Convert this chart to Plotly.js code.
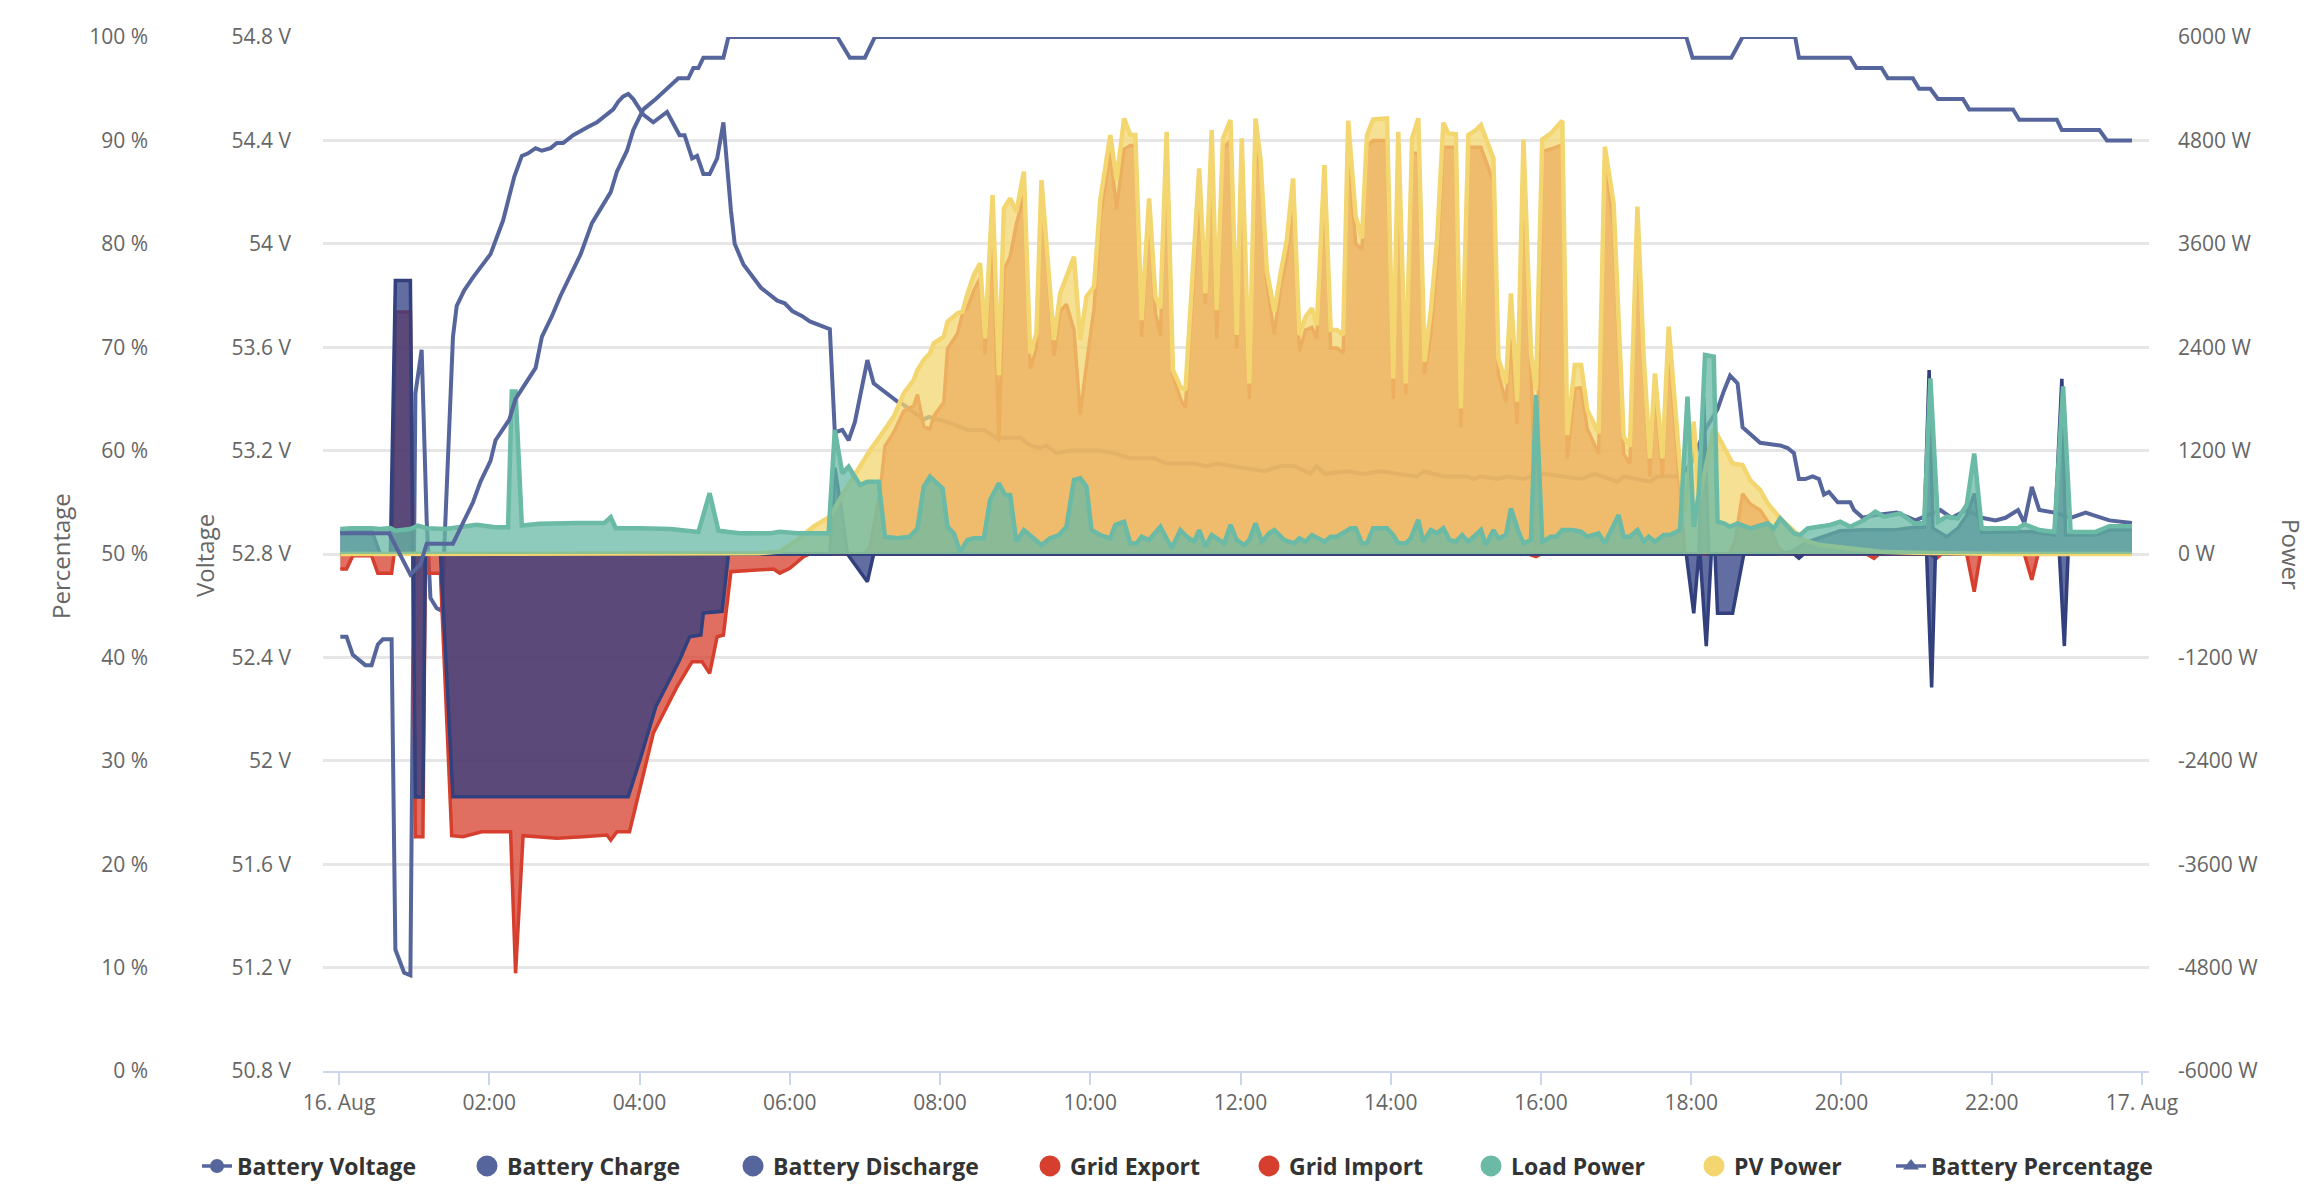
<!DOCTYPE html>
<html>
<head>
<meta charset="utf-8">
<script src="https://cdn.plot.ly/plotly-3.0.1.min.js"></script>
<style>
  html, body { margin: 0; padding: 0; background: #ffffff; }
  #grafica { width: 2312px; height: 1202px; }
</style>
</head>
<body>
<div id="grafica"></div>
<script>
// Inverter day log: 16 Aug, times in minutes after midnight

// Battery voltage (V)
let voltMin = [1, 6, 11, 21, 26, 31, 35, 42, 45, 52, 57, 61, 66, 70, 73, 78, 82, 84, 91, 94, 100, 107, 121, 131, 140, 146, 151, 157, 162, 169, 174, 179, 187, 198, 206, 219, 223, 227, 231, 235, 243, 251, 262, 272, 276, 282, 286, 291, 296, 302, 307, 313, 316, 323, 337, 350, 356, 362, 370, 376, 392, 396, 402, 407, 412, 422, 427, 446, 450, 467, 471, 486, 502, 515, 525, 544, 552, 560, 565, 573, 584, 608, 619, 632, 651, 661, 683, 693, 701, 739, 752, 763, 776, 781, 787, 805, 818, 832, 861, 866, 882, 901, 906, 912, 926, 933, 946, 952, 962, 992, 1003, 1021, 1026, 1047, 1053, 1071, 1080, 1091, 1101, 1106, 1111, 1117, 1121, 1135, 1151, 1157, 1162, 1166, 1171, 1177, 1182, 1186, 1190, 1197, 1207, 1210, 1217, 1226, 1244, 1259, 1279, 1288, 1300, 1312, 1323, 1331, 1341, 1346, 1352, 1358, 1370, 1383, 1395, 1401, 1414, 1432];
let voltV = [52.48, 52.48, 52.41, 52.37, 52.37, 52.45, 52.47, 52.47, 51.27, 51.18, 51.17, 53.42, 53.59, 52.93, 52.63, 52.59, 52.58, 52.81, 53.64, 53.76, 53.82, 53.87, 53.96, 54.09, 54.26, 54.34, 54.35, 54.37, 54.36, 54.37, 54.39, 54.39, 54.42, 54.45, 54.47, 54.52, 54.55, 54.57, 54.58, 54.56, 54.50, 54.47, 54.51, 54.42, 54.42, 54.33, 54.34, 54.27, 54.27, 54.33, 54.47, 54.13, 54.00, 53.92, 53.83, 53.78, 53.77, 53.74, 53.72, 53.70, 53.67, 53.27, 53.28, 53.24, 53.31, 53.55, 53.46, 53.39, 53.38, 53.32, 53.33, 53.31, 53.28, 53.28, 53.25, 53.25, 53.22, 53.21, 53.22, 53.19, 53.20, 53.20, 53.19, 53.17, 53.17, 53.15, 53.15, 53.14, 53.15, 53.12, 53.14, 53.14, 53.11, 53.14, 53.11, 53.12, 53.11, 53.12, 53.10, 53.12, 53.10, 53.10, 53.09, 53.10, 53.09, 53.10, 53.09, 53.10, 53.11, 53.09, 53.11, 53.08, 53.10, 53.08, 53.10, 53.10, 53.15, 53.28, 53.36, 53.43, 53.49, 53.46, 53.29, 53.23, 53.22, 53.21, 53.19, 53.09, 53.09, 53.10, 53.09, 53.03, 53.04, 53.00, 53.00, 52.97, 52.94, 52.95, 52.96, 52.93, 52.97, 52.94, 52.97, 52.94, 52.93, 52.94, 52.97, 52.92, 53.06, 52.97, 52.96, 52.94, 52.96, 52.95, 52.93, 52.92];

// Battery state of charge (%)
let socMin = [1, 40, 57, 65, 70, 91, 99, 107, 113, 121, 125, 136, 141, 157, 162, 170, 177, 185, 193, 202, 217, 222, 230, 235, 243, 253, 262, 271, 279, 283, 287, 291, 307, 311, 398, 408, 420, 428, 1076, 1081, 1112, 1121, 1163, 1166, 1207, 1212, 1232, 1237, 1257, 1262, 1271, 1277, 1297, 1302, 1337, 1342, 1372, 1376, 1406, 1412, 1432];
let socPct = [52, 52, 48, 49, 51, 51, 53, 55, 57, 59, 61, 63, 65, 68, 71, 73, 75, 77, 79, 82, 85, 87, 89, 91, 93, 94, 95, 96, 96, 97, 97, 98, 98, 100, 100, 98, 98, 100, 100, 98, 98, 100, 100, 98, 98, 97, 97, 96, 96, 95, 95, 94, 94, 93, 93, 92, 92, 91, 91, 90, 90];

// Battery charge (W, drawn below zero)
let chargeMin = [1, 59, 61, 67, 69, 81, 91, 231, 242, 253, 272, 280, 289, 291, 306, 311, 406, 413, 422, 427, 1076, 1082, 1086, 1087, 1092, 1096, 1099, 1101, 1113, 1122, 1162, 1166, 1170, 1268, 1272, 1275, 1374, 1378, 1381, 1432];
let chargeW = [0, 0, -2820, -2820, 0, 0, -2816, -2816, -2313, -1772, -1230, -960, -940, -685, -665, 0, 0, -147, -321, 0, 0, -688, 0, 0, -1068, 0, 0, -688, -688, 0, 0, -50, 0, 0, -1549, 0, 0, -1068, 0, 0];

// Battery discharge (W)
let dischargeMin = [1, 26, 33, 41, 45, 57, 59, 392, 396, 402, 406, 1086, 1090, 1094, 1149, 1160, 1173, 1185, 1199, 1218, 1242, 1258, 1266, 1270, 1273, 1284, 1293, 1300, 1306, 1312, 1341, 1352, 1370, 1376, 1379, 1403, 1414, 1432];
let dischargeW = [260, 278, 0, 0, 3174, 3174, 0, 0, 1000, 450, 0, 0, 1806, 0, 0, 30, 140, 200, 270, 280, 280, 310, 310, 2135, 300, 200, 300, 450, 700, 250, 250, 260, 220, 2032, 220, 220, 280, 280];

// Grid export (W)
let exportMin = [1, 42, 45, 57, 59, 420, 424, 432, 436, 443, 451, 459, 462, 467, 472, 475, 483, 486, 494, 498, 502, 507, 512, 516, 522, 527, 531, 536, 541, 547, 552, 557, 561, 571, 576, 581, 587, 592, 597, 603, 608, 616, 621, 627, 632, 636, 641, 647, 652, 656, 661, 666, 672, 676, 687, 692, 697, 701, 706, 712, 717, 721, 727, 732, 736, 741, 747, 752, 757, 762, 767, 772, 777, 781, 787, 792, 797, 802, 806, 812, 817, 821, 826, 837, 842, 846, 852, 857, 862, 867, 872, 877, 882, 886, 892, 896, 902, 908, 912, 922, 926, 932, 936, 941, 946, 952, 956, 961, 968, 977, 981, 987, 992, 997, 1006, 1011, 1018, 1026, 1031, 1037, 1042, 1047, 1051, 1057, 1062, 1071, 1075, 1110, 1115, 1121, 1127, 1135, 1141, 1149, 1155, 1432];
let exportW = [0, 0, 2808, 2808, 0, 0, 80, 700, 1250, 1410, 1660, 1720, 1850, 1480, 1450, 1600, 1760, 2380, 2560, 2790, 2860, 3060, 3200, 2320, 3750, 1300, 3300, 3450, 3830, 4160, 2150, 2380, 4240, 2300, 2820, 2900, 2600, 1620, 2200, 2850, 3900, 4680, 4000, 4700, 4740, 4740, 2520, 3960, 2800, 2530, 4800, 2080, 1800, 1700, 4200, 2900, 4700, 2500, 4700, 4800, 2380, 4700, 1800, 4700, 4430, 3150, 2550, 3100, 3450, 4150, 2350, 2600, 2630, 2500, 4370, 2390, 2390, 2330, 4750, 3600, 3530, 4740, 4800, 4800, 1800, 4780, 1850, 4650, 4650, 2090, 2550, 3400, 4720, 4720, 4720, 1470, 4720, 4720, 4720, 4320, 2090, 1760, 2490, 1510, 4690, 2170, 60, 4670, 4700, 4750, 1100, 1920, 1930, 1450, 1160, 4650, 3800, 1160, 1050, 3750, 2150, 900, 1950, 890, 2420, 750, 0, 0, 150, 700, 580, 510, 380, 85, 0, 0];

// Grid import (W, drawn below zero)
let importMin = [1, 6, 11, 26, 31, 42, 44, 59, 61, 67, 69, 70, 81, 90, 99, 114, 137, 141, 147, 174, 195, 214, 217, 222, 232, 251, 270, 282, 290, 296, 302, 307, 313, 326, 347, 352, 360, 371, 376, 950, 956, 960, 1220, 1226, 1230, 1270, 1276, 1280, 1300, 1306, 1311, 1346, 1352, 1357, 1432];
let importW = [-175, -175, -20, -20, -224, -224, 0, 0, -3281, -3281, 0, -224, -224, -3269, -3281, -3223, -3223, -4866, -3269, -3300, -3281, -3261, -3319, -3223, -3223, -2081, -1540, -1250, -1250, -1385, -960, -940, -205, -193, -174, -222, -166, -31, 0, 0, -30, 0, 0, -50, 0, 0, -50, 0, 0, -437, 0, 0, -299, 0, 0];

// Load power (W)
let loadMin = [1, 10, 26, 33, 41, 45, 57, 63, 70, 85, 100, 110, 125, 135, 138, 141, 146, 160, 190, 212, 217, 221, 240, 265, 287, 296, 303, 320, 345, 352, 366, 379, 391, 396, 402, 407, 416, 422, 431, 436, 446, 456, 462, 467, 472, 482, 486, 491, 496, 502, 507, 515, 520, 527, 532, 536, 541, 547, 555, 561, 568, 575, 581, 587, 592, 597, 601, 608, 616, 620, 627, 632, 637, 641, 647, 656, 665, 672, 677, 683, 687, 692, 697, 707, 712, 717, 723, 727, 732, 737, 743, 747, 755, 763, 767, 772, 777, 787, 792, 797, 808, 812, 817, 821, 826, 837, 842, 846, 852, 856, 862, 866, 872, 877, 882, 887, 892, 897, 902, 912, 916, 922, 926, 932, 936, 942, 946, 952, 956, 961, 968, 972, 977, 985, 992, 997, 1006, 1011, 1022, 1026, 1031, 1037, 1042, 1046, 1051, 1058, 1063, 1071, 1077, 1082, 1086, 1091, 1098, 1101, 1106, 1111, 1117, 1127, 1141, 1146, 1151, 1162, 1167, 1173, 1191, 1199, 1207, 1218, 1227, 1234, 1247, 1258, 1266, 1271, 1277, 1284, 1293, 1300, 1306, 1312, 1341, 1346, 1358, 1370, 1377, 1383, 1403, 1414, 1432];
let loadW = [290, 300, 300, 290, 300, 270, 290, 330, 300, 290, 320, 340, 310, 310, 1886, 1886, 330, 350, 360, 360, 427, 300, 300, 290, 255, 705, 270, 240, 240, 259, 240, 240, 240, 1439, 936, 1013, 801, 839, 839, 201, 182, 201, 298, 781, 897, 762, 317, 240, 27, 162, 182, 182, 627, 820, 685, 685, 143, 278, 182, 104, 182, 220, 317, 859, 878, 781, 278, 220, 182, 337, 375, 124, 124, 201, 162, 317, 66, 278, 201, 143, 278, 85, 220, 124, 337, 162, 104, 162, 356, 143, 240, 278, 162, 124, 182, 143, 220, 143, 201, 201, 298, 298, 124, 124, 298, 298, 220, 124, 124, 182, 395, 143, 278, 240, 298, 162, 143, 220, 143, 278, 104, 278, 182, 220, 530, 259, 124, 162, 1845, 143, 201, 201, 278, 278, 259, 201, 240, 124, 453, 201, 201, 278, 143, 201, 143, 220, 220, 278, 1826, 317, 700, 2309, 2290, 375, 356, 317, 356, 298, 356, 298, 414, 240, 220, 298, 337, 375, 317, 395, 491, 433, 472, 356, 356, 2038, 375, 433, 414, 569, 1166, 300, 300, 345, 278, 256, 1944, 256, 256, 322, 322];

// PV power (W)
let pvMin = [1, 320, 335, 352, 366, 379, 392, 406, 419, 424, 432, 436, 443, 451, 459, 462, 467, 472, 475, 483, 486, 494, 498, 502, 507, 512, 516, 522, 527, 531, 536, 541, 547, 552, 557, 561, 571, 576, 581, 587, 592, 597, 603, 608, 616, 621, 627, 632, 636, 641, 647, 652, 656, 661, 666, 672, 676, 687, 692, 697, 701, 706, 712, 717, 721, 727, 732, 736, 741, 747, 752, 757, 762, 767, 772, 777, 781, 787, 792, 797, 802, 806, 812, 817, 821, 826, 837, 842, 846, 852, 857, 862, 867, 872, 877, 882, 886, 892, 896, 902, 908, 912, 922, 926, 932, 936, 941, 946, 952, 956, 961, 968, 977, 981, 987, 992, 997, 1006, 1011, 1018, 1026, 1031, 1037, 1042, 1047, 1051, 1057, 1062, 1071, 1075, 1082, 1086, 1098, 1103, 1113, 1121, 1127, 1135, 1141, 1151, 1162, 1170, 1183, 1205, 1231, 1258, 1311, 1330, 1432];
let pvW = [0, 0, 10, 27, 162, 317, 433, 781, 1091, 1200, 1362, 1450, 1594, 1864, 2019, 2135, 2250, 2329, 2445, 2522, 2696, 2793, 2812, 3025, 3238, 3373, 2503, 4166, 2077, 4011, 4127, 3973, 4437, 2329, 2561, 4340, 2484, 3025, 3218, 3450, 2484, 2986, 3102, 4108, 4862, 4340, 5055, 4862, 4862, 2715, 4127, 2986, 2851, 4900, 2135, 1942, 1903, 4475, 3025, 4920, 2831, 4823, 5036, 2541, 4823, 1980, 5055, 4572, 3296, 2812, 3257, 3644, 4359, 2541, 2754, 2851, 2657, 4514, 2599, 2599, 2541, 5028, 3914, 3663, 4862, 5044, 5055, 2038, 4900, 1980, 4823, 5055, 2232, 2831, 3644, 5005, 4881, 4874, 1690, 4862, 4920, 4978, 4591, 2270, 1980, 3025, 1768, 4812, 2329, 1903, 4812, 4881, 5028, 1381, 2193, 2193, 1671, 1400, 4727, 4069, 1362, 1245, 4031, 2290, 1110, 2096, 1110, 2638, 1013, 472, 1536, 627, 1458, 1323, 1052, 1033, 859, 743, 588, 414, 259, 162, 104, 66, 27, 15, 5, 0, 0];

// Axis ticks
let hourTicks = [0, 2, 4, 6, 8, 10, 12, 14, 16, 18, 20, 22, 24];
let hourLabels = ['16. Aug', '02:00', '04:00', '06:00', '08:00', '10:00', '12:00', '14:00', '16:00', '18:00', '20:00', '22:00', '17. Aug'];
let voltTicks = [50.8, 51.2, 51.6, 52, 52.4, 52.8, 53.2, 53.6, 54, 54.4, 54.8];
let powerTicks = [-6000, -4800, -3600, -2400, -1200, 0, 1200, 2400, 3600, 4800, 6000];
let pctTicks = [0, 10, 20, 30, 40, 50, 60, 70, 80, 90, 100];


// minutes -> date string for plotly
const BASE = Date.UTC(2024, 7, 16);
function stamp(min) {
  return new Date(BASE + min * 60000).toISOString().slice(0, 19).replace('T', ' ');
}
function horas(mins) { return mins.map(stamp); }

const fuente = 'Open Sans, Noto Sans, sans-serif';
const gris = '#666666';
const tamTicks = 21;

const AZUL = '86,102,156';
const BATERIA = '45,60,130';
const ROJO = '214,63,46';
const VERDE = '106,186,166';
const AMARILLO = '243,214,112';

// area series on the power axis
function area(mins, vals, rgb, alpha, width, lineRgb) {
  return {
    type: 'scatter', mode: 'lines',
    x: horas(mins), y: vals, yaxis: 'y2',
    fill: 'tozeroy', fillcolor: 'rgba(' + rgb + ',' + alpha + ')',
    line: { color: 'rgb(' + (lineRgb || rgb) + ')', width: width },
    showlegend: false, hoverinfo: 'skip'
  };
}

let traces = [];

// voltage first so the power areas cover it
traces.push({
  type: 'scatter', mode: 'lines', x: horas(voltMin), y: voltV, yaxis: 'y',
  line: { color: 'rgb(' + AZUL + ')', width: 4 }, showlegend: false, hoverinfo: 'skip'
});
traces.push(area(exportMin, exportW, ROJO, 0.75, 3.5));
traces.push(area(importMin, importW, ROJO, 0.75, 3.5));
traces.push(area(chargeMin, chargeW, BATERIA, 0.75, 3.5, '50,64,125'));
traces.push(area(dischargeMin, dischargeW, BATERIA, 0.75, 3.5, '50,64,125'));
traces.push(area(pvMin, pvW, AMARILLO, 0.75, 4.5));
traces.push(area(loadMin, loadW, VERDE, 0.75, 4.5));
traces.push({
  type: 'scatter', mode: 'lines', x: horas(socMin), y: socPct, yaxis: 'y3',
  line: { color: 'rgb(' + AZUL + ')', width: 4 }, showlegend: false, hoverinfo: 'skip'
});


// legend entries, one small legend each so they sit like the original
let legendNames = ['Battery Voltage', 'Battery Charge', 'Battery Discharge', 'Grid Export', 'Grid Import', 'Load Power', 'PV Power', 'Battery Percentage'];
let legendColors = [AZUL, AZUL, AZUL, ROJO, ROJO, VERDE, AMARILLO, AZUL];
let legendTextX = [237, 507, 773, 1070, 1289, 1511, 1734, 1931];

let layoutLegends = {};
legendNames.forEach(function (nombre, i) {
  let id = i === 0 ? 'legend' : 'legend' + (i + 1);
  let color = 'rgb(' + legendColors[i] + ')';
  let t = {
    type: 'scatter', x: [null], y: [null], yaxis: 'y2', name: nombre,
    legend: id, showlegend: true, hoverinfo: 'skip'
  };
  if (i === 0 || i === 7) {
    t.mode = 'lines+markers';
    t.line = { color: color, width: 3.5 };
    t.marker = { color: color, size: 14, symbol: i === 0 ? 'circle' : 'triangle-up' };
  } else {
    t.mode = 'markers';
    t.marker = { color: color, size: 22, symbol: 'circle', line: { color: color, width: 5 } };
  }
  traces.push(t);
  layoutLegends[id] = {
    x: (legendTextX[i] - 40) / 2312, y: 1 - 1166 / 1202,
    xanchor: 'left', yanchor: 'middle', orientation: 'h',
    bgcolor: 'rgba(0,0,0,0)', borderwidth: 0,
    font: { family: fuente, size: 23, color: '#333333', weight: 700 }
  };
});


let layout = Object.assign({
  width: 2312,
  height: 1202,
  margin: { l: 0, r: 0, t: 0, b: 0, pad: 0 },
  paper_bgcolor: '#ffffff',
  plot_bgcolor: '#ffffff',
  hovermode: false,
  xaxis: {
    type: 'date',
    domain: [323 / 2312, 2149 / 2312],
    range: [stamp(-12.8), stamp(1445.6)],
    tickvals: hourTicks.map(function (h) { return stamp(h * 60); }),
    ticktext: hourLabels,
    ticks: 'outside', ticklen: 12, tickwidth: 2, tickcolor: '#ccd6eb',
    showline: true, linecolor: '#ccd6eb', linewidth: 2,
    showgrid: false, zeroline: false, automargin: false,
    ticklabelstandoff: 0,
    tickfont: { family: fuente, size: tamTicks, color: gris }
  },
  yaxis: {
    domain: [1 - 1071 / 1202, 1 - 37 / 1202],
    range: [50.8, 54.8],
    tickvals: voltTicks,
    ticktext: voltTicks.map(function (v) { return v + ' V'; }),
    showgrid: true, gridcolor: '#e6e6e6', gridwidth: 2.5,
    zeroline: false, showline: false, ticks: '', automargin: false,
    ticklabelstandoff: 31,
    tickfont: { family: fuente, size: tamTicks, color: gris }
  },
  yaxis2: {
    overlaying: 'y', side: 'right',
    range: [-6000, 6000],
    tickvals: powerTicks,
    ticktext: powerTicks.map(function (v) { return v + ' W'; }),
    showgrid: false, zeroline: false, showline: false, ticks: '', automargin: false,
    ticklabelstandoff: 28,
    tickfont: { family: fuente, size: tamTicks, color: gris }
  },
  yaxis3: {
    overlaying: 'y', side: 'left', anchor: 'free', position: 148 / 2312,
    range: [0, 100],
    tickvals: pctTicks,
    ticktext: pctTicks.map(function (v) { return v + ' %'; }),
    showgrid: false, zeroline: false, showline: false, ticks: '', automargin: false,
    tickfont: { family: fuente, size: tamTicks, color: gris }
  },
  annotations: [
    { text: 'Percentage', x: 60 / 2312, y: 1 - 556 / 1202, textangle: -90 },
    { text: 'Voltage', x: 204 / 2312, y: 1 - 556 / 1202, textangle: -90 },
    { text: 'Power', x: 2292 / 2312, y: 1 - 554 / 1202, textangle: 90 }
  ].map(function (a) {
    return Object.assign({
      xref: 'paper', yref: 'paper', showarrow: false,
      xanchor: 'center', yanchor: 'middle',
      font: { family: fuente, size: 24, color: gris }
    }, a);
  })
}, layoutLegends);

Plotly.newPlot('grafica', traces, layout, { displayModeBar: false, responsive: false });
</script>
</body>
</html>
